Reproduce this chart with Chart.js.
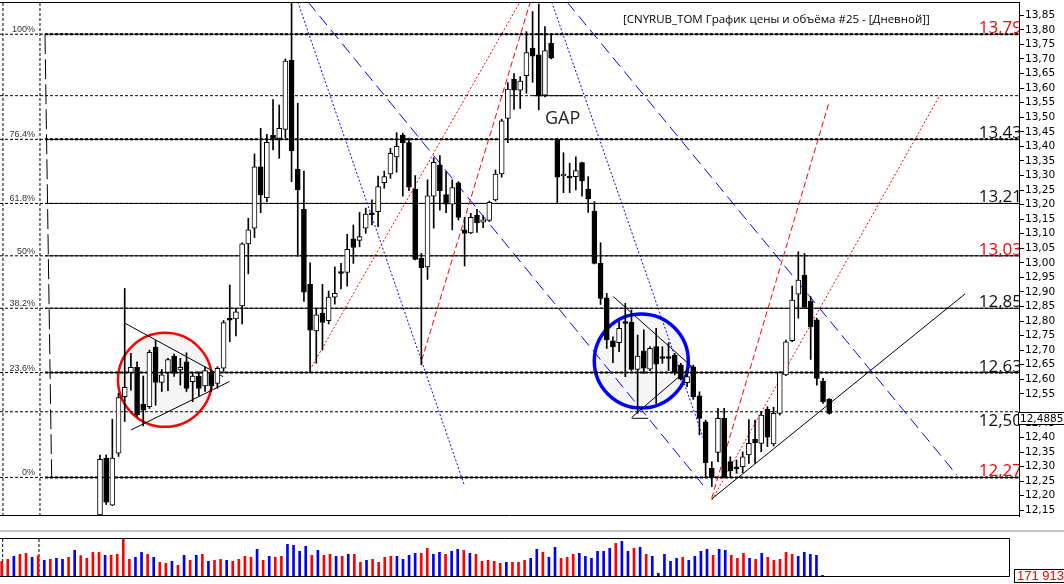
<!DOCTYPE html>
<html>
<head>
<meta charset="utf-8">
<script src="https://cdn.jsdelivr.net/npm/chart.js@4.4.0/dist/chart.umd.min.js"></script>
<style>
html, body { margin:0; padding:0; background:#fff; width:1064px; height:584px; overflow:hidden; }
#price { position:absolute; left:0; top:0; }
#vol { position:absolute; left:0; top:536px; }
.sep { position:absolute; left:0; top:530px; width:1064px; height:2px; background:#c4c4c4; }
.vbox { position:absolute; left:1014px; top:569px; width:60px; height:12px; border:1px solid #000; background:#fff;
        color:#f00; font:13px "Liberation Sans"; line-height:12px; padding-left:2px; }
</style>
</head>
<body>
<canvas id="price" width="1064" height="520"></canvas>
<div class="sep"></div>
<canvas id="vol" width="1064" height="44"></canvas>
<div class="vbox">171 913</div>
<script>
// CNYRUB_TOM, дневки (O/H/L/C)
const open = [
12.134,12.329,12.168,12.346,12.540,12.624,12.641,12.514,12.506,12.710,
12.589,12.624,12.680,12.632,12.660,12.592,12.611,12.577,12.623,12.586,
12.638,12.808,12.807,12.852,13.065,13.119,13.330,13.224,13.439,13.427,
13.458,13.696,13.322,13.184,12.926,12.766,12.827,12.801,12.882,12.969,
12.967,13.082,13.077,13.119,13.172,13.176,13.275,13.305,13.364,13.439,
13.413,13.253,13.015,12.986,13.229,13.336,13.234,13.201,13.275,13.113,
13.103,13.164,13.140,13.146,13.216,13.305,13.496,13.630,13.593,13.643,
13.737,13.714,13.576,13.754,13.424,13.298,13.296,13.296,13.344,13.253,
13.178,12.998,12.880,12.732,12.726,12.798,12.796,12.634,12.698,12.635,
12.712,12.677,12.677,12.683,12.649,12.588,12.643,12.543,12.454,12.294,
12.349,12.466,12.317,12.297,12.300,12.340,12.394,12.380,12.497,12.378,
12.483,12.615,12.733,12.892,12.958,12.869,12.804,12.594,12.531];
const high = [
12.340,12.340,12.463,12.552,12.912,12.689,12.660,12.611,12.700,12.733,
12.634,12.672,12.687,12.672,12.691,12.620,12.626,12.643,12.632,12.643,
12.802,12.924,12.844,13.069,13.153,13.374,13.462,13.441,13.561,13.542,
13.700,13.891,13.548,13.315,13.000,12.844,12.926,12.903,12.986,12.998,
13.098,13.130,13.173,13.188,13.216,13.298,13.315,13.393,13.447,13.445,
13.428,13.300,13.032,13.285,13.361,13.368,13.313,13.285,13.279,13.156,
13.170,13.184,13.161,13.212,13.319,13.493,13.619,13.650,13.639,13.794,
13.863,13.889,13.811,13.788,13.428,13.378,13.342,13.364,13.346,13.296,
13.210,13.069,12.895,12.746,12.798,12.861,12.838,12.752,12.770,12.712,
12.775,12.712,12.726,12.689,12.655,12.615,12.649,12.557,12.460,12.317,
12.500,12.500,12.334,12.323,12.351,12.462,12.460,12.489,12.506,12.504,
12.626,12.735,12.920,13.038,13.032,12.884,12.810,12.603,12.534];
const low = [
12.131,12.170,12.166,12.335,12.455,12.563,12.472,12.440,12.500,12.511,
12.558,12.561,12.610,12.580,12.558,12.523,12.543,12.558,12.558,12.569,
12.627,12.729,12.749,12.790,12.962,13.087,13.172,13.210,13.388,13.359,
13.430,13.279,13.023,12.867,12.623,12.655,12.700,12.790,12.858,12.910,
12.920,12.998,13.055,13.101,13.130,13.124,13.256,13.290,13.311,13.229,
13.248,13.010,12.650,12.943,13.119,13.181,13.172,13.113,13.147,12.989,
13.100,13.104,13.121,13.142,13.212,13.294,13.413,13.527,13.530,13.582,
13.620,13.525,13.570,13.700,13.207,13.241,13.241,13.250,13.229,13.173,
12.996,12.857,12.706,12.657,12.695,12.609,12.630,12.483,12.620,12.630,
12.517,12.655,12.630,12.615,12.597,12.575,12.531,12.409,12.265,12.231,
12.317,12.263,12.265,12.277,12.279,12.311,12.311,12.351,12.369,12.371,
12.477,12.612,12.729,12.810,12.844,12.668,12.580,12.517,12.480];
const close = [
12.325,12.178,12.329,12.537,12.572,12.641,12.478,12.494,12.693,12.589,
12.615,12.668,12.624,12.641,12.569,12.611,12.569,12.630,12.577,12.638,
12.795,12.804,12.832,13.065,13.113,13.330,13.233,13.414,13.427,13.462,
13.693,13.385,13.250,12.899,12.769,12.821,12.795,12.882,12.895,12.965,
13.046,13.053,13.090,13.167,13.165,13.262,13.296,13.376,13.400,13.413,
13.260,13.012,12.983,13.230,13.345,13.248,13.201,13.258,13.156,13.101,
13.156,13.138,13.148,13.208,13.305,13.488,13.597,13.593,13.624,13.722,
13.710,13.576,13.729,13.703,13.294,13.305,13.293,13.317,13.281,13.219,
12.998,12.878,12.735,12.712,12.775,12.792,12.634,12.680,12.638,12.706,
12.652,12.673,12.673,12.626,12.600,12.609,12.540,12.466,12.314,12.265,
12.466,12.265,12.286,12.295,12.334,12.380,12.382,12.477,12.401,12.483,
12.623,12.729,12.872,12.941,12.847,12.781,12.603,12.523,12.483];

const lastPrice = 12.4885;
const yTicks = [13.85,13.80,13.75,13.70,13.65,13.60,13.55,13.50,13.45,13.40,13.35,13.30,13.25,13.20,
  13.15,13.10,13.05,13.00,12.95,12.90,12.85,12.80,12.75,12.70,12.65,12.60,12.55,
  12.45,12.40,12.35,12.30,12.25,12.20,12.15];

// уровни фибо
const fibLevels = [13.785, 13.424, 13.204, 13.024, 12.844, 12.623, 12.263];
const fibPct    = ['100%','76.4%','61.8%','50%','38.2%','23.6%','0%'];
const fibText   = ['13,79','13,43','13,21','13,03','12,85','12,63','12,27'];
const fibRed    = [true, false, false, true, false, false, true];
const gapLevel = 13.574;

// разметка: [индекс свечи, цена]
const fibConnector = [[-8.90,13.785],[-7.82,12.263]];
const leftVerticals = [-15.70, -9.71];
const triRed  = [[[4.09,12.792],[19.90,12.609]], [[5.02,12.426],[20.92,12.592]]];
const triBlue = [[[83.06,12.884],[95.90,12.641]], [[86.04,12.469],[95.73,12.646]], [[86.04,12.466],[88.72,12.466]]];
const supportLine = [[98.98,12.189],[139.97,12.893]];
const redDotted  = [[[34.26,12.643],[67.96,13.896]], [[99.03,12.186],[135.92,13.576]]];
const redDashed  = [[[52.06,12.666],[69.64,13.896]], [[98.98,12.191],[118.0,13.553]]];
const blueDotted = [[[32.01,13.896],[58.95,12.237]], [[73.09,13.896],[97.73,12.392]]];
const blueDashed = [[[33.66,13.896],[98.22,12.220]], [[75.57,13.896],[138.67,12.271]]];
const gapLine = [[70.06,gapLevel],[77.99,gapLevel]];
const redCircle  = [10.52, 12.598];
const blueCircle = [87.59, 12.663];

// объём
const volume = [
47,53,62,68,71,59,64,50,53,56, 53,59,80,64,56,74,74,65,65,68,
113,53,59,74,68,59,44,41,47,35, 65,50,65,68,47,50,53,50,47,53,
62,59,83,50,62,59,62,98,95,77, 92,65,80,65,68,62,62,68,68,44,
50,53,44,59,62,62,53,65,71,71, 86,68,74,68,77,83,80,71,68,47,
50,47,41,44,44,44,50,
56,83,74,59,89,56,59,68,71,62, 56,77,77,86,101,107,77,86,89,68,
62,11,68,47,56,59,50,62,77,83, 65,83,80,65,56,71,56,53,71,59,
50,53,74,68,62,74,68,65,5];
const volSide = ('rrbrrbrbrbbrbrrrrbrrrrbbrbrrbrbrbrbrrbrrrrbrbrrbbbbrbrrbrbrrbrrrrbbbbrrbbrbbrbrrrrrbrr' + 'r' +
  'bbrbbrrrbbbbbbrbbrbrbbbbbrbbbbrbbrrrbrbrrrrrbbbbb').split('');

// ------------------------------------------------------------
const X_MIN = -16.18, X_MAX = 148.71;
const Y_MIN = 12.1305, Y_MAX = 13.8957;
const fmt = v => v.toFixed(2).replace('.', ',');

function seg(pts, color, dash, width, order){
	return {
		type:'line',
		data: pts.map(p => ({x:p[0], y:p[1]})),
		borderColor: color, borderWidth: width || 1, borderDash: dash || [],
		pointRadius: 0, fill: false, tension: 0, order: order || 3
	};
}

const ds = [];
// тела
ds.push({
	type:'bar', order:0, grouped:false, barThickness:5,
	data: open.map((o,i) => {
		let a = Math.min(o, close[i]), b = Math.max(o, close[i]);
		if (b - a < 0.006) { const m = (a+b)/2; a = m-0.003; b = m+0.003; }
		return {x:i, y:[a,b]};
	}),
	backgroundColor: open.map((o,i) => close[i] > o + 0.004 ? '#fff' : '#000'),
	borderColor:'#000', borderWidth:1, borderSkipped:false
});
// тени
ds.push({
	type:'bar', order:1, grouped:false, barThickness:1,
	data: open.map((o,i) => ({x:i, y:[low[i], high[i]]})),
	backgroundColor:'#000'
});

// линии разметки
[triRed, triBlue].forEach(t => t.forEach(s => ds.push(seg(s, '#000', [], 1, 2))));
ds.push(seg(supportLine, '#000', [], 1, 2));
redDotted.forEach(s => ds.push(seg(s, '#f00', [2,2], 1, 2)));
redDashed.forEach(s => ds.push(seg(s, '#f00', [6,3], 1, 2)));
blueDotted.forEach(s => ds.push(seg(s, '#00f', [2,2], 1, 2)));
blueDashed.forEach(s => ds.push(seg(s, '#00f', [12,6], 1, 2)));
ds.push(seg(gapLine, '#000', [], 1, 2));

// фибо и пунктиры
fibLevels.forEach((v,k) => {
	ds.push(seg([[fibConnector[0][0], v],[X_MAX, v]], '#000', [], 1, 4));
	if (k === 0 || k === 1 || k === 5 || k === 6)
		ds.push(seg([[fibConnector[0][0], v],[X_MAX, v]], '#000', [3,2], 2, 4));
});
fibLevels.concat([gapLevel, lastPrice]).forEach(v => ds.push(seg([[X_MIN, v],[X_MAX, v]], '#000', [3,2], 1, 5)));
ds.push(seg(fibConnector, '#000', [20,5], 1, 4));
leftVerticals.forEach(x => ds.push(seg([[x, Y_MIN],[x, Y_MAX]], '#000', [3,2], 1, 5)));

// круги
ds.push({type:'scatter', order:8, data:[{x:redCircle[0], y:redCircle[1]}], pointRadius:47,
	pointBackgroundColor:'#f5f5f5', pointBorderColor:'#f00', pointBorderWidth:2.5, showLine:false});
ds.push({type:'scatter', order:8, data:[{x:blueCircle[0], y:blueCircle[1]}], pointRadius:47,
	pointBackgroundColor:'#f5f5f5', pointBorderColor:'#00f', pointBorderWidth:3.5, showLine:false});

const priceDecor = {
	id:'priceDecor',
	afterDatasetsDraw(chart){
		const {ctx, chartArea:a, scales:{y}} = chart;
		ctx.save();
		ctx.strokeStyle = '#000'; ctx.lineWidth = 1;
		ctx.beginPath();
		ctx.moveTo(0, a.top + 0.5); ctx.lineTo(a.right, a.top + 0.5);
		ctx.moveTo(0, a.bottom - 0.5); ctx.lineTo(a.right, a.bottom - 0.5);
		ctx.stroke();

		// подписи процентов слева
		ctx.font = '9px "Liberation Sans"'; ctx.fillStyle = '#333';
		ctx.textAlign = 'right'; ctx.textBaseline = 'alphabetic';
		fibLevels.forEach((v,k) => ctx.fillText(fibPct[k], 35, y.getPixelForValue(v) - 2));

		// цены уровней справа (обрезаются рамкой)
		ctx.save();
		ctx.beginPath(); ctx.rect(a.left, a.top, a.right - a.left, a.bottom - a.top); ctx.clip();
		ctx.font = '17px "Open Sans"'; ctx.textAlign = 'right';
		fibLevels.forEach((v,k) => {
			ctx.fillStyle = fibRed[k] ? '#f00' : '#111';
			ctx.fillText(fibText[k], 1022, y.getPixelForValue(v) - 1);
		});
		ctx.fillStyle = '#111'; ctx.textBaseline = 'top';
		ctx.fillText('12,50', 1022, y.getPixelForValue(lastPrice) + 1);
		ctx.restore();

		// заголовок
		ctx.font = '11.5px "Open Sans"'; ctx.fillStyle = '#000';
		ctx.textAlign = 'left'; ctx.textBaseline = 'middle';
		ctx.fillText('[CNYRUB_TOM График цены и объёма #25 - [Дневной]]', 623, 20);

		// GAP
		ctx.font = '18px "Open Sans"'; ctx.fillStyle = '#222'; ctx.textBaseline = 'alphabetic';
		ctx.fillText('GAP', 545, 124);

		// текущая цена на шкале
		const py = Math.round(y.getPixelForValue(lastPrice));
		ctx.fillStyle = '#fff'; ctx.fillRect(1018, py, 60, 12);
		ctx.strokeRect(1018.5, py + 0.5, 60, 12);
		ctx.font = '10.5px "DejaVu Sans"'; ctx.fillStyle = '#000'; ctx.textBaseline = 'middle';
		ctx.fillText('12,4885', 1020, py + 7);
		ctx.restore();
	}
};

new Chart(document.getElementById('price'), {
	type:'bar',
	data:{ datasets: ds },
	options:{
		responsive:false, animation:false, devicePixelRatio:1, events:[],
		layout:{ autoPadding:false, padding:{ top:2, bottom:4, left:0, right:0 } },
		plugins:{ legend:{display:false}, tooltip:{enabled:false} },
		scales:{
			x:{ type:'linear', min:X_MIN, max:X_MAX, display:false, offset:false },
			y:{
				position:'right', min:Y_MIN, max:Y_MAX,
				afterBuildTicks: s => { s.ticks = yTicks.map(v => ({value:v})); },
				afterFit: s => { s.width = 45; s.paddingTop = 0; s.paddingBottom = 0; },
				grid:{ drawOnChartArea:false, drawTicks:true, tickLength:5, color:'#000' },
				border:{ display:true, color:'#000' },
				ticks:{ autoSkip:false, padding:1, color:'#000', font:{ family:'DejaVu Sans', size:10.5 }, callback: v => fmt(v) }
			}
		}
	},
	plugins:[priceDecor]
});

// ---------------- объём ----------------
const V_MIN = -0.28, V_MAX = 165.67;
const volDecor = {
	id:'volDecor',
	afterDatasetsDraw(chart){
		const {ctx, chartArea:a} = chart;
		ctx.save();
		ctx.strokeStyle = '#000'; ctx.lineWidth = 1;
		ctx.beginPath();
		ctx.moveTo(0, a.top + 0.5); ctx.lineTo(a.right + 0.5, a.top + 0.5);
		ctx.lineTo(a.right + 0.5, a.bottom - 0.5); ctx.lineTo(0, a.bottom - 0.5);
		ctx.stroke();
		ctx.restore();
	}
};

new Chart(document.getElementById('vol'), {
	type:'bar',
	data:{ datasets:[
		{
			type:'bar', order:0, grouped:false, barThickness:2,
			data: volume.map((v,j) => ({x:j, y:v})),
			backgroundColor: volSide.map(s => s === 'r' ? '#f00' : '#00f')
		},
		seg([[0.16,0],[0.16,117]], '#000', [3,2], 1, 5),
		seg([[6.13,0],[6.13,117]], '#000', [3,2], 1, 5)
	]},
	options:{
		responsive:false, animation:false, devicePixelRatio:1, events:[],
		layout:{ autoPadding:false, padding:{ top:2, bottom:3, left:0, right:55 } },
		plugins:{ legend:{display:false}, tooltip:{enabled:false} },
		scales:{
			x:{ type:'linear', min:V_MIN, max:V_MAX, display:false, offset:false },
			y:{ min:0, max:117, display:false }
		}
	},
	plugins:[volDecor]
});
</script>
</body>
</html>
